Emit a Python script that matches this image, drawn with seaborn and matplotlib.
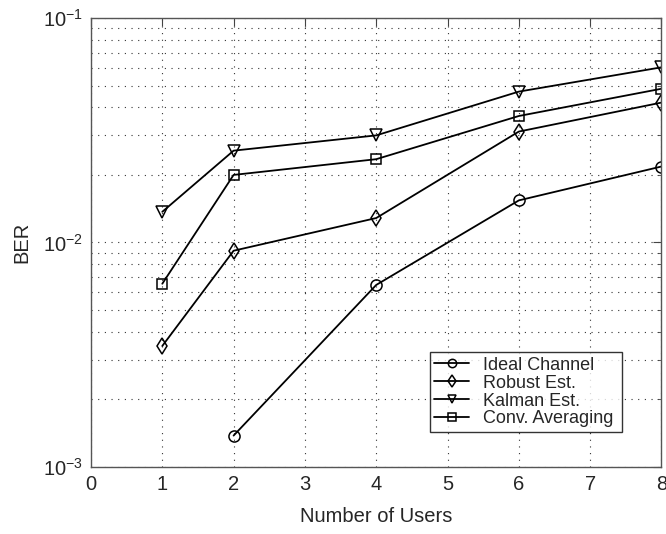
import matplotlib
matplotlib.use("Agg")
import matplotlib.pyplot as plt
import seaborn as sns
import pandas as pd
import numpy as np
from matplotlib.ticker import LogLocator, NullFormatter

sns.set_style("white")
plt.rcParams['font.family'] = ['Liberation Sans', 'DejaVu Sans']
plt.rcParams['mathtext.fontset'] = 'custom'
plt.rcParams['mathtext.rm'] = 'Liberation Sans'
plt.rcParams['mathtext.it'] = 'Liberation Sans'

users_ideal = [2, 4, 6, 8]
ber_ideal = [1.38e-3, 6.47e-3, 1.54e-2, 2.18e-2]
users = [1, 2, 4, 6, 8]
ber_robust = [3.46e-3, 9.19e-3, 1.285e-2, 3.12e-2, 4.20e-2]
ber_kalman = [1.37e-2, 2.565e-2, 3.00e-2, 4.70e-2, 6.03e-2]
ber_conv = [6.55e-3, 2.00e-2, 2.35e-2, 3.66e-2, 4.84e-2]

labels = ["Ideal Channel", "Robust Est.", "Kalman Est.", "Conv. Averaging"]
markers = ["o", "d", "v", "s"]
msizes = [8, 8, 8.5, 7]

frames = [
    pd.DataFrame({"users": users_ideal, "ber": ber_ideal, "method": labels[0]}),
    pd.DataFrame({"users": users, "ber": ber_robust, "method": labels[1]}),
    pd.DataFrame({"users": users, "ber": ber_kalman, "method": labels[2]}),
    pd.DataFrame({"users": users, "ber": ber_conv, "method": labels[3]}),
]

fig = plt.figure(figsize=(6.66, 5.34), dpi=100)
ax = fig.add_axes([0.1366, 0.1255, 0.8566, 0.8408])

for df, lab, mk, ms in zip(frames, labels, markers, msizes):
    sns.lineplot(data=df, x="users", y="ber", ax=ax, color="black", lw=1.3,
                 marker=mk, markersize=ms, markerfacecolor="none",
                 markeredgecolor="black", markeredgewidth=1.1, label=lab)

ax.set_yscale("log")
ax.set_xlim(0, 8)
ax.set_ylim(1e-3, 1e-1)
ax.set_xticks(range(0, 9))
ax.yaxis.set_major_locator(LogLocator(base=10, numticks=10))
ax.yaxis.set_minor_locator(LogLocator(base=10, subs=np.arange(2, 10), numticks=20))
ax.yaxis.set_minor_formatter(NullFormatter())

ax.grid(True, which="major", axis="both", linestyle=(0, (1, 5)), color="#333333", lw=0.8)
ax.grid(True, which="minor", axis="y", linestyle=(0, (1, 5)), color="#333333", lw=0.8)

ax.tick_params(axis="both", which="both", direction="in", top=True, right=True,
               labelsize=14.5, color="#444444")
ax.tick_params(axis="x", which="major", pad=6)
ax.tick_params(axis="y", which="major", pad=6)
ax.tick_params(axis="both", which="major", length=6)
ax.tick_params(axis="both", which="minor", length=3)
for s in ax.spines.values():
    s.set_color("#555555")
    s.set_linewidth(1.0)

ax.set_xlabel("Number of Users", fontsize=14.5, labelpad=9)
ax.set_ylabel("BER", fontsize=14.5, labelpad=8)

leg = ax.legend(loc="lower left", bbox_to_anchor=(0.594, 0.078, 0.337, 0.194),
                mode="expand", fontsize=13, frameon=True, fancybox=False,
                handlelength=1.9, handletextpad=0.8, borderpad=0.25,
                labelspacing=0.05, borderaxespad=0)
leg.get_frame().set_edgecolor("black")
leg.get_frame().set_linewidth(1.0)
for h in leg.get_lines():
    h.set_markersize(6)

fig.savefig("out.png", dpi=100)
